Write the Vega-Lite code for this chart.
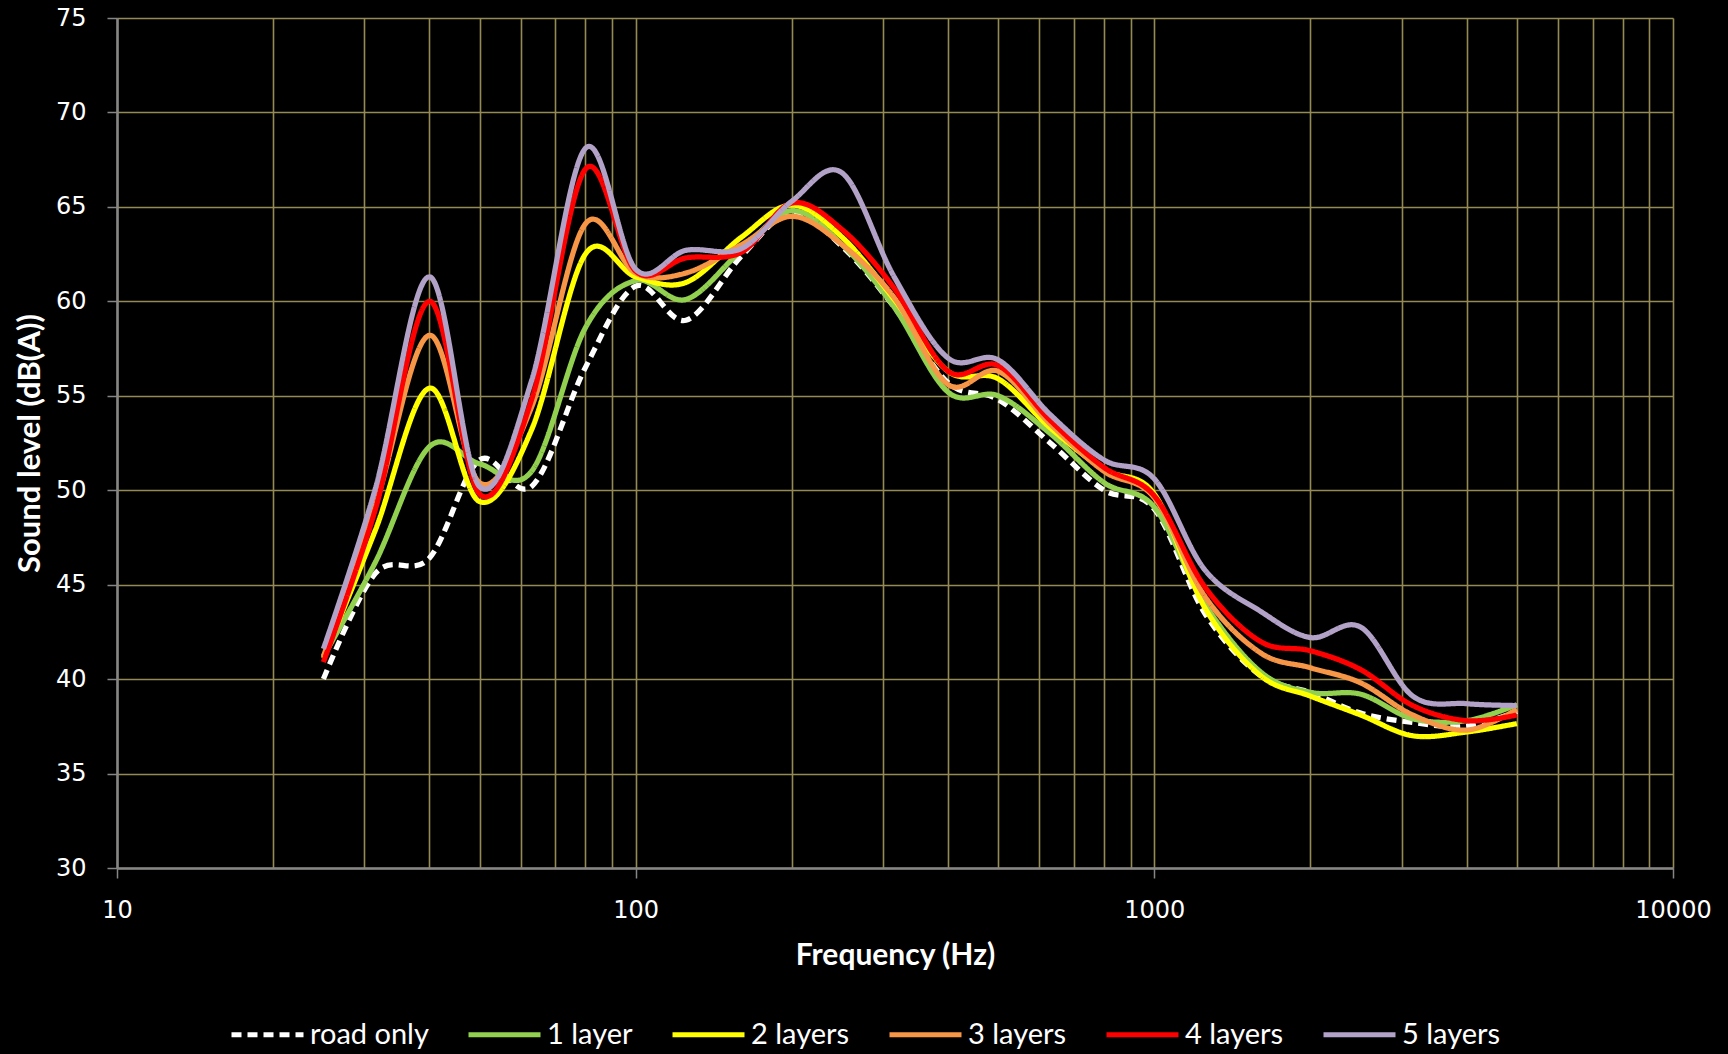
{
  "$schema": "https://vega.github.io/schema/vega-lite/v6.json",
  "autosize": {"type": "none"},
  "width": 1556,
  "height": 850,
  "padding": {"left": 117, "top": 18, "right": 55, "bottom": 186},
  "background": "black",
  "config": {
    "view": {"stroke": null},
    "axis": {"labelColor": "white", "titleColor": "white"}
  },
  "data": {
    "values": [
      {"f": 25, "road only": 40.0, "1 layer": 41.2, "2 layers": 41.1, "3 layers": 41.2, "4 layers": 40.9, "5 layers": 41.6},
      {"f": 31.5, "road only": 45.6, "1 layer": 46.2, "2 layers": 47.9, "3 layers": 49.2, "4 layers": 49.0, "5 layers": 50.1},
      {"f": 40, "road only": 46.4, "1 layer": 52.3, "2 layers": 55.4, "3 layers": 58.2, "4 layers": 60.0, "5 layers": 61.3},
      {"f": 50, "road only": 51.6, "1 layer": 51.4, "2 layers": 49.4, "3 layers": 50.4, "4 layers": 49.8, "5 layers": 50.2},
      {"f": 63, "road only": 50.2, "1 layer": 51.0, "2 layers": 53.2, "3 layers": 54.4, "4 layers": 54.8, "5 layers": 55.8},
      {"f": 80, "road only": 56.5, "1 layer": 58.6, "2 layers": 62.5, "3 layers": 64.1, "4 layers": 67.0, "5 layers": 68.1},
      {"f": 100, "road only": 60.8, "1 layer": 61.1, "2 layers": 61.3, "3 layers": 61.5, "4 layers": 61.6, "5 layers": 61.7},
      {"f": 125, "road only": 59.0, "1 layer": 60.1, "2 layers": 61.0, "3 layers": 61.5, "4 layers": 62.3, "5 layers": 62.7},
      {"f": 160, "road only": 62.4, "1 layer": 62.7, "2 layers": 63.4, "3 layers": 63.0, "4 layers": 62.6, "5 layers": 62.8},
      {"f": 200, "road only": 64.7, "1 layer": 64.8, "2 layers": 65.1, "3 layers": 64.5, "4 layers": 65.2, "5 layers": 65.3},
      {"f": 250, "road only": 62.9, "1 layer": 63.0, "2 layers": 63.4, "3 layers": 63.0, "4 layers": 63.8, "5 layers": 66.8},
      {"f": 315, "road only": 59.7, "1 layer": 59.7, "2 layers": 60.1, "3 layers": 60.2, "4 layers": 60.7, "5 layers": 61.3},
      {"f": 400, "road only": 55.7, "1 layer": 55.2, "2 layers": 56.3, "3 layers": 55.6, "4 layers": 56.3, "5 layers": 57.0},
      {"f": 500, "road only": 54.8, "1 layer": 55.0, "2 layers": 55.9, "3 layers": 56.3, "4 layers": 56.6, "5 layers": 56.9},
      {"f": 630, "road only": 52.5, "1 layer": 53.0, "2 layers": 53.3, "3 layers": 53.5, "4 layers": 53.7, "5 layers": 54.0},
      {"f": 800, "road only": 50.0, "1 layer": 50.4, "2 layers": 51.1, "3 layers": 51.0, "4 layers": 51.2, "5 layers": 51.6},
      {"f": 1000, "road only": 49.0, "1 layer": 49.1, "2 layers": 49.8, "3 layers": 49.6, "4 layers": 49.7, "5 layers": 50.6},
      {"f": 1250, "road only": 43.5, "1 layer": 44.0, "2 layers": 43.8, "3 layers": 44.4, "4 layers": 44.9, "5 layers": 45.8},
      {"f": 1600, "road only": 40.2, "1 layer": 40.4, "2 layers": 40.2, "3 layers": 41.4, "4 layers": 42.0, "5 layers": 43.6},
      {"f": 2000, "road only": 39.3, "1 layer": 39.3, "2 layers": 39.1, "3 layers": 40.6, "4 layers": 41.5, "5 layers": 42.2},
      {"f": 2500, "road only": 38.2, "1 layer": 39.2, "2 layers": 38.1, "3 layers": 39.8, "4 layers": 40.5, "5 layers": 42.75},
      {"f": 3150, "road only": 37.7, "1 layer": 37.9, "2 layers": 37.0, "3 layers": 38.1, "4 layers": 38.6, "5 layers": 39.1},
      {"f": 4000, "road only": 37.5, "1 layer": 37.8, "2 layers": 37.2, "3 layers": 37.3, "4 layers": 37.8, "5 layers": 38.7},
      {"f": 5000, "road only": 38.3, "1 layer": 38.65, "2 layers": 37.65, "3 layers": 38.4, "4 layers": 38.1, "5 layers": 38.6}
    ]
  },
  "transform": [
    {"fold": ["road only", "1 layer", "2 layers", "3 layers", "4 layers", "5 layers"], "as": ["series", "v"]}
  ],
  "mark": {"type": "line", "interpolate": "cardinal", "strokeWidth": 5.25},
  "encoding": {
    "x": {
      "field": "f", "type": "quantitative",
      "scale": {"type": "log", "domain": [10, 10000], "nice": false},
      "axis": {
        "title": "Frequency (Hz)",
        "values": [10,20,30,40,50,60,70,80,90,100,200,300,400,500,600,700,800,900,1000,2000,3000,4000,5000,6000,7000,8000,9000,10000],
        "labelExpr": "indexof([10,100,1000,10000], datum.value) >= 0 ? '' + datum.value : ''",
        "grid": true, "gridColor": "#948A54", "gridWidth": 1.6,
        "domainColor": "#868686", "domainWidth": 2.5,
        "tickColor": {"condition": {"test": "indexof([10,100,1000,10000], datum.value) >= 0", "value": "#868686"}, "value": "transparent"},
        "tickSize": 10, "tickWidth": 1.5,
        "labelFont": "DejaVu Sans", "labelFontSize": 24, "labelPadding": 20,
        "labelFlush": false, "labelOverlap": false,
        "titleFont": "Lato", "titleFontSize": 30, "titleFontWeight": "bold", "titlePadding": 18
      }
    },
    "y": {
      "field": "v", "type": "quantitative",
      "scale": {"domain": [30, 75], "nice": false, "zero": false},
      "axis": {
        "title": "Sound level (dB(A))",
        "values": [30,35,40,45,50,55,60,65,70,75],
        "grid": true, "gridColor": "#948A54", "gridWidth": 1.6,
        "domainColor": "#868686", "domainWidth": 2.5,
        "tickColor": "#868686", "tickSize": 10, "tickWidth": 1.5,
        "labelFont": "DejaVu Sans", "labelFontSize": 24, "labelPadding": 21,
        "labelFlush": false,
        "titleFont": "Lato", "titleFontSize": 31, "titleFontWeight": "bold", "titlePadding": 9
      }
    },
    "color": {
      "field": "series", "type": "nominal",
      "scale": {
        "domain": ["road only", "1 layer", "2 layers", "3 layers", "4 layers", "5 layers"],
        "range": ["#FFFFFF", "#92D050", "#FFFF00", "#F79646", "#FF0000", "#B3A2C7"]
      },
      "legend": {
        "title": null, "orient": "none", "direction": "horizontal",
        "legendX": 112, "legendY": 978,
        "symbolType": "stroke", "symbolSize": 5184, "symbolStrokeWidth": 5,
        "labelColor": "white", "labelFont": "Lato", "labelFontSize": 29,
        "labelOffset": 4, "columnPadding": 29
      }
    },
    "strokeDash": {
      "field": "series", "type": "nominal",
      "scale": {
        "domain": ["road only", "1 layer", "2 layers", "3 layers", "4 layers", "5 layers"],
        "range": [[10, 6], [1, 0], [1, 0], [1, 0], [1, 0], [1, 0]]
      }
    }
  }
}
